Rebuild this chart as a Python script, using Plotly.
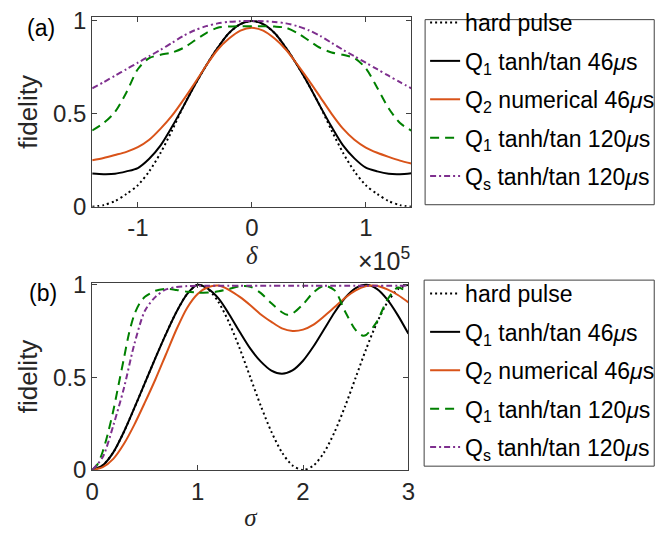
import plotly.graph_objects as go

# ---------------- Panel (a): fidelity vs detuning delta ----------------
delta_e5 = [-1.4, -1.3, -1.2, -1.1, -1.0, -0.9, -0.8, -0.7, -0.6, -0.5, -0.4, -0.3, -0.2, -0.1, 0.0,
            0.1, 0.2, 0.3, 0.4, 0.5, 0.6, 0.7, 0.8, 0.9, 1.0, 1.1, 1.2, 1.3, 1.4]
a_hard = [0.0, 0.008, 0.03, 0.068, 0.115, 0.19, 0.29, 0.41, 0.54, 0.655, 0.76, 0.855, 0.935, 0.983, 1.0,
          0.983, 0.935, 0.855, 0.76, 0.655, 0.54, 0.41, 0.29, 0.19, 0.115, 0.068, 0.03, 0.008, 0.0]
a_q1_46 = [0.178, 0.175, 0.177, 0.19, 0.208, 0.258, 0.33, 0.43, 0.54, 0.655, 0.76, 0.855, 0.935, 0.983, 1.0,
           0.983, 0.935, 0.855, 0.76, 0.655, 0.54, 0.43, 0.33, 0.26, 0.21, 0.19, 0.177, 0.175, 0.18]
a_q2_46 = [0.25, 0.262, 0.278, 0.295, 0.32, 0.36, 0.42, 0.49, 0.575, 0.665, 0.76, 0.845, 0.905, 0.948, 0.963,
           0.948, 0.905, 0.845, 0.765, 0.68, 0.59, 0.5, 0.42, 0.36, 0.318, 0.29, 0.268, 0.248, 0.232]
a_q1_120 = [0.41, 0.45, 0.51, 0.615, 0.74, 0.80, 0.818, 0.83, 0.855, 0.895, 0.935, 0.963, 0.97, 0.972, 0.972,
            0.972, 0.97, 0.963, 0.935, 0.895, 0.855, 0.83, 0.818, 0.80, 0.745, 0.64, 0.53, 0.45, 0.41]
a_qs_120 = [0.637, 0.67, 0.705, 0.74, 0.775, 0.81, 0.845, 0.882, 0.92, 0.95, 0.972, 0.987, 0.995, 0.999, 1.0,
            0.999, 0.995, 0.987, 0.972, 0.95, 0.92, 0.882, 0.845, 0.81, 0.775, 0.74, 0.705, 0.67, 0.637]
delta = [v * 1e5 for v in delta_e5]

# ---------------- Panel (b): fidelity vs sigma ----------------
sigma = [0.0, 0.1, 0.2, 0.3, 0.4, 0.5, 0.6, 0.7, 0.8, 0.9, 1.0, 1.1, 1.2, 1.3, 1.4, 1.5,
         1.6, 1.7, 1.8, 1.9, 2.0, 2.1, 2.2, 2.3, 2.4, 2.5, 2.6, 2.7, 2.8, 2.9, 3.0]
b_hard = [0.0, 0.025, 0.095, 0.205, 0.335, 0.47, 0.605, 0.735, 0.855, 0.95, 1.0, 0.976, 0.905, 0.794, 0.655, 0.5,
          0.345, 0.206, 0.095, 0.024, 0.0, 0.024, 0.095, 0.206, 0.345, 0.5, 0.655, 0.794, 0.905, 0.976, 1.0]
b_q1_46 = [0.0, 0.025, 0.095, 0.205, 0.335, 0.47, 0.605, 0.735, 0.855, 0.95, 1.0, 0.978, 0.925, 0.84, 0.745, 0.655,
           0.585, 0.537, 0.52, 0.538, 0.59, 0.668, 0.76, 0.852, 0.93, 0.982, 1.0, 0.978, 0.92, 0.835, 0.735]
b_q2_46 = [0.0, 0.015, 0.06, 0.14, 0.245, 0.365, 0.49, 0.625, 0.76, 0.875, 0.95, 0.988, 0.996, 0.972, 0.935, 0.89,
           0.84, 0.80, 0.765, 0.751, 0.758, 0.785, 0.83, 0.88, 0.93, 0.97, 0.993, 0.995, 0.975, 0.945, 0.905]
sigma_g = [0.0, 0.05, 0.1, 0.15, 0.2, 0.25, 0.3, 0.35, 0.4, 0.45, 0.5, 0.6, 0.7, 0.8, 0.9, 1.0, 1.1, 1.2,
           1.3, 1.4, 1.5, 1.6, 1.7, 1.8, 1.85, 1.9, 2.0, 2.1, 2.2, 2.3, 2.4, 2.5, 2.57, 2.6, 2.7, 2.8, 2.9, 3.0]
b_q1_120 = [0.0, 0.03, 0.1, 0.2, 0.32, 0.46, 0.6, 0.74, 0.84, 0.9, 0.935, 0.968, 0.978, 0.972, 0.963, 0.958,
            0.958, 0.965, 0.978, 0.992, 0.99, 0.955, 0.9, 0.852, 0.838, 0.845, 0.895, 0.96, 0.995, 0.97,
            0.855, 0.755, 0.725, 0.73, 0.8, 0.92, 0.985, 0.955]
b_qs_120 = [0.0, 0.07, 0.24, 0.44, 0.68, 0.86, 0.935, 0.975, 0.988, 0.993, 0.995, 0.995, 0.995, 0.995, 0.995, 0.995,
            0.995, 0.995, 0.995, 0.995, 0.995, 0.995, 0.995, 0.995, 0.995, 0.995, 0.995, 0.995, 0.995, 0.995, 0.995]

names = ["hard pulse",
         "Q<sub>1</sub> tanh/tan 46<i>μ</i>s",
         "Q<sub>2</sub> numerical 46<i>μ</i>s",
         "Q<sub>1</sub> tanh/tan 120<i>μ</i>s",
         "Q<sub>s</sub> tanh/tan 120<i>μ</i>s"]
colors = ["#000000", "#000000", "#D95319", "#008000", "#7E2F8E"]
dashes = ["2px,3px", "solid", "solid", "9px,6px", "6px,3px,2px,3px"]

fig = go.Figure()

series_a = [(delta, a_hard), (delta, a_q1_46), (delta, a_q2_46), (delta, a_q1_120), (delta, a_qs_120)]
series_b = [(sigma, b_hard), (sigma, b_q1_46), (sigma, b_q2_46), (sigma_g, b_q1_120), (sigma, b_qs_120)]

for i, (x, y) in enumerate(series_a):
    fig.add_trace(go.Scatter(x=x, y=y, mode="lines", name=names[i], legend="legend",
                             legendgroup="a%d" % i,
                             line=dict(color=colors[i], width=2, dash=dashes[i], shape="spline", smoothing=0.8),
                             xaxis="x", yaxis="y"))
for i, (x, y) in enumerate(series_b):
    fig.add_trace(go.Scatter(x=x, y=y, mode="lines", name=names[i], legend="legend2",
                             legendgroup="b%d" % i,
                             line=dict(color=colors[i], width=2, dash=dashes[i], shape="spline", smoothing=0.8),
                             xaxis="x2", yaxis="y2"))

FONT = "Liberation Sans"
TXT = "#262626"
EDGE = "#404040"
W, H = 672, 545
axis_common = dict(showgrid=False, zeroline=False, showline=True, linecolor=EDGE, linewidth=1,
                   mirror="ticks", ticks="inside", ticklen=5, tickwidth=1, tickcolor=EDGE,
                   tickfont=dict(family=FONT, size=24, color=TXT))

legend_common = dict(font=dict(family=FONT, size=23, color="#000000"), bgcolor="rgba(0,0,0,0)",
                     borderwidth=0, xanchor="left", yanchor="top",
                     traceorder="grouped", tracegroupgap=5.5, itemwidth=30)

# legend frames (layout decoration, in paper coordinates)
frame_a = dict(x0=427 / W, x1=661 / W, y0=1 - 202 / H, y1=1 - 8 / H)
frame_b = dict(x0=426 / W, x1=661 / W, y0=1 - 476 / H, y1=1 - 281 / H)

fig.update_layout(
    width=W, height=H, margin=dict(l=0, r=0, t=0, b=0),
    paper_bgcolor="#ffffff", plot_bgcolor="#ffffff",
    xaxis=dict(domain=[0.1295, 0.6146], anchor="y", range=[-1.4e5, 1.4e5],
               tickvals=[-1e5, 0, 1e5], ticktext=["-1", "0", "1"],
               title=dict(text="<i>δ</i>", font=dict(family="Liberation Serif", size=25, color=TXT), standoff=6),
               **axis_common),
    yaxis=dict(domain=[0.6257, 0.9899], anchor="x", range=[0, 1.02], tickvals=[0, 0.5, 1],
               ticktext=["0", "0.5", "1"],
               title=dict(text="fidelity", font=dict(family=FONT, size=26, color=TXT), standoff=7),
               **axis_common),
    xaxis2=dict(domain=[0.1295, 0.6101], anchor="y2", range=[0, 3], tickvals=[0, 1, 2, 3],
                title=dict(text="<i>σ</i>", font=dict(family="Liberation Serif", size=25, color=TXT), standoff=4),
                **axis_common),
    yaxis2=dict(domain=[0.1193, 0.4789], anchor="x2", range=[0, 1.01], tickvals=[0, 0.5, 1],
                ticktext=["0", "0.5", "1"],
                title=dict(text="fidelity", font=dict(family=FONT, size=26, color=TXT), standoff=7),
                **axis_common),
    legend=dict(x=427 / W, y=1 + 11.5 / H, **legend_common),
    legend2=dict(x=427 / W, y=1 - 272.5 / H, **legend_common),
    shapes=[
        dict(type="rect", xref="paper", yref="paper", line=dict(color=EDGE, width=1),
             fillcolor="rgba(0,0,0,0)", layer="below", **frame_a),
        dict(type="rect", xref="paper", yref="paper", line=dict(color=EDGE, width=1),
             fillcolor="rgba(0,0,0,0)", layer="below", **frame_b),
    ],
    annotations=[
        dict(text="(a)", x=35 / W, y=1 - 17 / H, xref="paper", yref="paper", showarrow=False,
             font=dict(family=FONT, size=23, color="#000000"), xanchor="center", yanchor="middle"),
        dict(text="(b)", x=37 / W, y=1 - 295 / H, xref="paper", yref="paper", showarrow=False,
             font=dict(family=FONT, size=23, color="#000000"), xanchor="center", yanchor="middle"),
        dict(text="×10<sup>5</sup>", x=414 / W, y=1 - 259 / H, xref="paper", yref="paper", showarrow=False,
             font=dict(family=FONT, size=25, color=TXT), xanchor="right", yanchor="middle"),
    ],
)

fig.write_html("out.html")
